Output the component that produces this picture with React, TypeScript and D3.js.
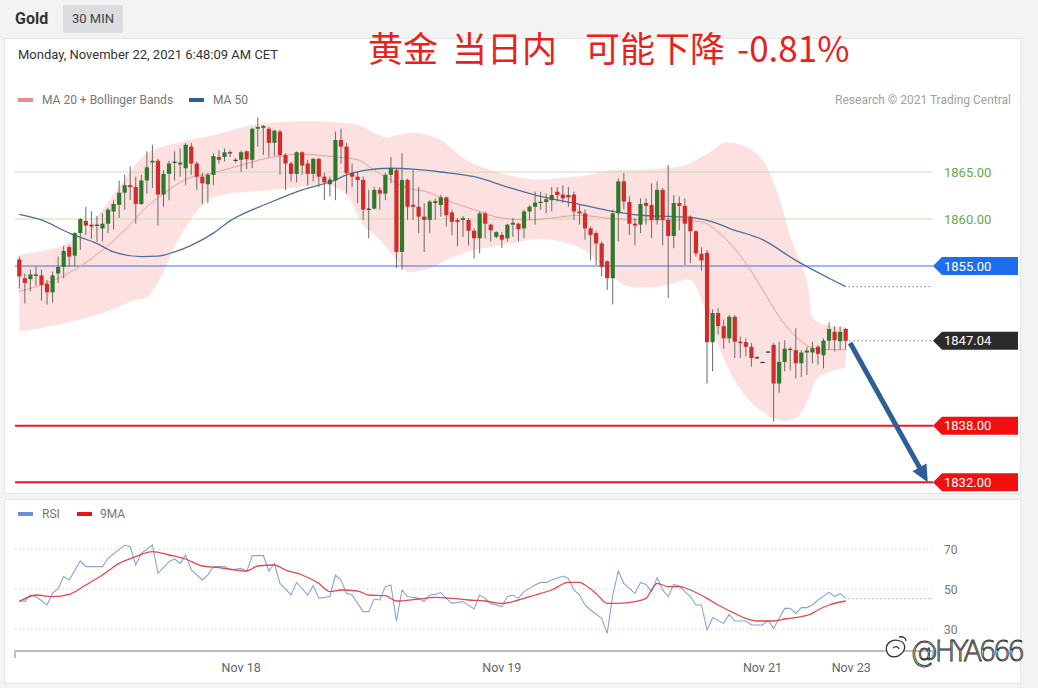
import React from 'react';
import * as d3 from 'd3';

// ---------- DATA ----------
const opens = [1855.7,1853.7,1853.6,1854.0,1854.0,1853.1,1852.2,1854.2,1854.9,1857.0,1856.1,1858.5,1859.8,1859.4,1859.3,1859.0,1859.5,1860.8,1861.5,1862.8,1863.6,1863.4,1861.6,1864.1,1866.0,1866.2,1862.6,1864.8,1866.0,1865.8,1865.4,1867.7,1865.9,1864.5,1863.7,1864.7,1866.6,1866.6,1867.0,1866.3,1866.3,1867.2,1866.3,1869.6,1869.7,1869.6,1868.1,1869.3,1866.8,1865.9,1864.8,1867.1,1865.9,1864.8,1866.4,1864.5,1863.7,1864.1,1868.4,1867.7,1864.9,1864.5,1864.15,1861.0,1861.1,1863.1,1862.7,1864.7,1865.2,1856.5,1864.15,1861.5,1861.3,1860.25,1859.9,1861.7,1861.5,1862.3,1860.7,1859.9,1859.9,1859.9,1858.75,1857.95,1860.6,1859.4,1858.1,1858.3,1857.95,1859.4,1859.5,1859.0,1860.8,1861.3,1861.7,1861.8,1862.0,1862.9,1862.6,1862.55,1862.6,1860.8,1860.6,1859.0,1858.5,1857.4,1855.5,1853.7,1860.6,1864.0,1861.8,1859.5,1859.4,1861.7,1861.5,1859.9,1863.1,1859.9,1858.2,1861.7,1861.4,1860.25,1858.7,1856.3,1856.4,1846.9,1850.0,1848.6,1847.3,1849.6,1846.95,1846.9,1846.4,1845.3,1844.8,1845.85,1846.6,1842.5,1844.8,1846.2,1846.05,1844.65,1845.8,1845.8,1846.4,1845.5,1847.05,1848.0,1847.0,1848.3];
const highs = [1856.0,1854.2,1854.6,1855.0,1854.6,1853.5,1854.4,1856.0,1857.1,1857.2,1858.6,1860.1,1861.3,1860.8,1860.3,1860.6,1861.2,1862.0,1864.1,1864.7,1865.6,1864.5,1864.7,1867.2,1867.9,1866.4,1865.2,1866.2,1867.2,1867.5,1868.1,1868.1,1866.1,1864.9,1864.9,1867.0,1867.3,1867.5,1867.3,1866.5,1867.3,1867.3,1869.7,1870.8,1870.0,1869.8,1869.5,1869.5,1867.0,1866.1,1867.2,1867.2,1866.3,1866.5,1866.5,1864.9,1864.5,1869.3,1869.6,1868.1,1865.9,1865.0,1864.5,1863.1,1863.4,1863.4,1864.9,1866.6,1865.4,1867.0,1864.3,1865.2,1863.4,1861.7,1862.0,1862.2,1862.55,1862.4,1861.0,1860.1,1860.3,1860.1,1859.0,1860.8,1860.8,1859.5,1858.7,1858.6,1859.5,1860.1,1859.6,1861.0,1861.5,1862.9,1862.9,1862.7,1863.4,1863.4,1863.6,1863.4,1862.9,1861.5,1861.0,1859.2,1858.7,1857.6,1855.6,1861.0,1864.3,1864.9,1862.4,1860.1,1862.2,1862.2,1863.8,1864.0,1863.3,1865.75,1862.55,1862.4,1862.2,1860.4,1858.8,1857.0,1856.7,1850.4,1850.5,1849.3,1849.8,1849.8,1847.5,1847.3,1846.8,1845.4,1844.8,1845.95,1846.8,1846.95,1847.1,1846.4,1848.4,1846.05,1846.4,1846.95,1846.6,1847.3,1849.0,1848.55,1848.55,1848.4];
const lows = [1852.6,1851.0,1852.3,1852.9,1851.3,1850.9,1851.1,1853.2,1853.7,1854.9,1854.9,1856.7,1858.3,1857.9,1857.6,1857.6,1858.5,1858.9,1860.1,1861.0,1862.0,1859.5,1861.5,1862.7,1863.3,1859.3,1861.3,1862.0,1864.1,1864.5,1863.6,1864.7,1863.1,1861.6,1861.7,1863.6,1865.9,1866.1,1866.6,1866.0,1865.0,1865.3,1865.4,1867.7,1866.8,1866.6,1866.7,1864.7,1863.1,1864.0,1863.9,1864.7,1863.6,1864.0,1863.4,1862.0,1862.4,1862.0,1865.9,1862.7,1863.4,1861.7,1859.9,1857.95,1861.0,1861.0,1862.0,1863.8,1854.8,1854.6,1859.9,1859.9,1858.5,1856.5,1858.5,1859.9,1860.25,1859.2,1858.3,1857.1,1858.1,1857.2,1855.8,1856.35,1857.95,1857.6,1857.95,1856.9,1857.6,1858.1,1857.6,1857.95,1859.9,1859.4,1861.0,1860.6,1860.8,1861.85,1861.7,1861.3,1859.9,1859.4,1857.8,1855.6,1855.1,1853.9,1852.45,1850.9,1857.6,1861.0,1858.3,1857.2,1858.5,1859.4,1857.95,1859.4,1857.2,1851.6,1856.9,1858.8,1855.1,1855.3,1856.0,1854.5,1842.5,1843.8,1847.7,1846.2,1846.8,1845.2,1845.2,1845.4,1844.3,1845.1,1844.7,1845.8,1838.45,1841.5,1843.8,1843.9,1843.05,1843.2,1843.4,1844.65,1844.5,1844.1,1846.1,1845.9,1846.1,1846.1];
const closes = [1853.9,1853.2,1854.1,1854.1,1853.0,1852.2,1854.0,1854.9,1856.6,1856.0,1858.5,1860.0,1859.3,1859.2,1859.4,1859.5,1861.0,1861.6,1862.8,1863.6,1863.4,1861.6,1864.1,1865.5,1866.2,1862.6,1864.8,1865.9,1866.1,1866.0,1867.9,1865.9,1864.5,1863.8,1864.7,1866.7,1866.3,1867.1,1867.1,1866.2,1867.1,1866.35,1869.6,1869.8,1869.9,1868.1,1869.4,1866.8,1865.9,1864.8,1867.1,1865.7,1864.8,1866.4,1864.5,1863.9,1864.2,1868.4,1867.7,1864.9,1864.5,1864.15,1861.0,1861.1,1863.1,1862.7,1864.7,1865.4,1856.5,1864.15,1861.3,1861.3,1860.25,1859.9,1861.85,1861.9,1862.3,1860.4,1859.7,1859.7,1860.1,1858.75,1857.95,1860.6,1859.5,1858.8,1858.6,1857.8,1859.4,1859.6,1858.9,1860.8,1861.3,1861.75,1861.85,1862.1,1862.55,1862.55,1862.2,1862.3,1860.8,1860.6,1859.0,1858.3,1857.4,1854.9,1853.7,1860.6,1864.0,1861.85,1859.5,1859.3,1861.6,1861.4,1859.9,1863.1,1859.9,1858.2,1861.7,1861.4,1859.5,1858.7,1856.35,1855.6,1846.9,1850.0,1848.6,1847.3,1849.6,1846.95,1846.8,1846.4,1845.2,1845.25,1844.75,1845.9,1842.5,1844.8,1846.2,1846.05,1844.65,1845.8,1846.0,1846.25,1845.65,1847.05,1848.3,1847.1,1848.0,1847.04];

// [candle index, price]
const ma20: [number, number][] = [[0,1852.3],[5,1853.2],[10,1854.6],[15,1856.7],[19,1858.8],[23,1861.3],[26,1862.7],[30,1864.2],[35,1864.9],[38,1865.4],[45,1866.5],[51,1866.9],[57,1866.6],[61,1866.3],[64,1865.2],[70,1863.3],[74,1862.8],[77,1862.0],[82,1861.0],[87,1860.1],[92,1859.9],[96,1860.1],[101,1860.4],[106,1860.1],[113,1859.9],[118,1859.9],[123,1859.7],[126,1858.6],[131,1855.3],[134,1852.5],[137,1849.6],[140,1847.5],[143,1846.3],[146,1846.1],[149,1846.1]];
const ma50: [number, number][] = [[0,1860.5],[4,1859.9],[9,1858.5],[14,1857.4],[17,1856.5],[22,1856.0],[25,1856.05],[28,1856.5],[31,1857.2],[35,1858.5],[38,1859.8],[45,1861.7],[51,1863.1],[57,1864.15],[59,1864.7],[62,1865.15],[67,1865.4],[71,1865.3],[76,1865.0],[82,1864.5],[88,1863.4],[94,1862.4],[100,1861.7],[107,1860.8],[112,1860.4],[118,1860.25],[122,1860.1],[125,1859.7],[128,1859.0],[134,1857.8],[140,1855.6],[146,1853.7],[149,1852.8]];
const bandUpper: [number, number][] = [[0,1856.2],[7,1857.0],[11,1858.3],[15,1861.0],[19,1864.2],[23,1867.0],[29,1868.2],[35,1868.9],[42,1870.0],[50,1870.4],[57,1870.3],[61,1870.0],[66,1868.7],[68,1868.9],[71,1869.2],[76,1868.4],[80,1866.5],[84,1865.4],[88,1864.7],[93,1864.2],[98,1864.4],[103,1864.7],[107,1865.2],[111,1865.2],[116,1865.4],[120,1865.7],[123,1866.6],[125,1867.3],[127,1868.1],[131,1867.7],[134,1866.3],[137,1862.3],[139,1858.1],[142,1853.5],[143,1849.6],[144,1849.0],[149,1848.5]];
const bandLower: [number, number][] = [[0,1848.0],[5,1848.5],[15,1850.0],[21,1851.4],[23,1851.7],[26,1854.4],[28,1857.1],[31,1860.0],[34,1862.0],[38,1862.7],[46,1863.1],[52,1863.5],[56,1863.6],[59,1862.6],[62,1859.4],[65,1857.8],[68,1855.6],[70,1854.4],[74,1854.8],[78,1855.9],[82,1856.7],[87,1857.2],[92,1857.8],[96,1857.8],[100,1857.2],[103,1856.2],[106,1854.6],[109,1853.0],[113,1852.7],[117,1853.0],[121,1853.5],[123,1851.4],[125,1848.2],[128,1843.9],[131,1841.1],[134,1839.5],[137,1838.6],[140,1838.8],[142,1840.5],[144,1843.1],[146,1843.7],[149,1844.2]];

const rsi: [number, number][] = [[0,44.5],[1,43.7],[2,47],[3,46.2],[5,42],[6,47.8],[7,50.3],[8,56.2],[9,54.5],[11,64],[12,61.2],[15,61.2],[16,65.3],[19,72],[20,71.2],[21,62],[22,67.8],[24,72],[25,57.8],[27,63.7],[28,65],[29,62.8],[30,67],[31,59.5],[33,54.5],[34,57],[35,61.2],[37,61.2],[38,59.5],[40,60.3],[41,58.7],[42,66.7],[44,66.7],[45,59],[46,62.8],[47,52.8],[49,47],[50,53.3],[52,47],[53,51.7],[54,45.3],[56,46.2],[57,57],[58,54.5],[59,47.8],[60,47],[62,38.7],[63,38.7],[64,45],[65,44.5],[66,51.2],[67,52],[68,34],[69,49.5],[70,46.2],[72,45.3],[73,43.7],[74,47],[75,47.3],[76,48.2],[77,45.3],[78,42.8],[80,43.7],[82,40],[83,47],[84,45.3],[85,42.8],[87,41.2],[88,46.2],[89,47],[90,45.3],[91,48.7],[93,52],[94,53.3],[95,53.3],[96,54.5],[98,56.5],[99,55.3],[100,49.5],[101,47],[102,42],[103,39.5],[105,35.3],[106,27.8],[107,47],[108,59],[109,52.8],[111,47.8],[112,53.3],[113,52.3],[114,48.7],[115,55.7],[116,49.5],[117,46.2],[118,52.3],[119,51.5],[120,48.7],[121,46.2],[122,42],[123,42],[124,29.5],[125,35.7],[127,32.8],[128,37.3],[129,34],[131,34],[132,32],[134,32],[135,34.5],[136,30.3],[138,40.3],[139,40.3],[140,37.8],[141,40.7],[142,40.7],[143,42],[144,44.5],[146,48.3],[147,46.2],[148,47.8],[149,45.3]];
const rsiMA: [number, number][] = [[0,43.7],[3,47],[6,46.2],[9,47.3],[12,52],[15,57],[18,62.8],[21,66.2],[24,68.7],[27,67],[30,65],[33,61.5],[36,60.7],[39,59.5],[41,59],[43,61.5],[46,62],[48,59.5],[51,57],[54,52.8],[56,48.7],[58,49.5],[61,49],[63,47],[66,46.7],[68,44],[72,45],[75,45.8],[78,45.3],[81,44.5],[84,44],[87,42.8],[90,44.5],[93,47],[96,49.5],[99,53.3],[101,53.3],[102,52],[104,47.8],[106,42.8],[108,42.8],[111,43.7],[113,45.3],[114,49.5],[115,52.8],[117,51.2],[119,51.2],[121,49.5],[124,45.3],[126,42],[129,37.8],[131,35.3],[133,34],[136,34],[138,35],[141,36.2],[143,37.8],[144,39.5],[146,42],[149,44]];

const resistanceLevels = [1865, 1860];
const pivotLevel = 1855;
const lastPrice = 1847.04;
const supportLevels = [1838, 1832];
const arrowFrom: [number, number] = [149.8, 1846.8];
const arrowTo: [number, number] = [163.8, 1832];
const xTickIdx = [40, 87, 134, 150];
const xTickLabels = ['Nov 18', 'Nov 19', 'Nov 21', 'Nov 23'];
const rsiTicks = [70, 50, 30];
const titleParts = ['黄金', '当日内', '可能下降', '-0.81%'];

const FONT = "Roboto, 'Liberation Sans', Arial, sans-serif";

export default function App() {
  const W = 1038, H = 688;
  const x = d3.scaleLinear().domain([0, 149]).range([19.3, 845.7]);
  const y = d3.scaleLinear().domain([1855, 1865]).range([266, 172]);
  const yr = d3.scaleLinear().domain([30, 70]).range([629, 549]);
  const plotL = 15, plotR = 933, labelR = 1018;
  const titleX = [368, 452, 585, 737];

  const priceLine = d3.line<[number, number]>().x(d => x(d[0])).y(d => y(d[1])).curve(d3.curveMonotoneX);
  const bandLine = d3.line<[number, number]>().x(d => x(d[0])).y(d => y(d[1])).curve(d3.curveCatmullRom.alpha(0.5));
  const bandPath = (bandLine(bandUpper) || '') + (bandLine([...bandLower].reverse()) || '').replace(/^M/, 'L') + 'Z';
  const rsiLine = d3.line<[number, number]>().x(d => x(d[0])).y(d => yr(d[1]));
  const rsiMALine = d3.line<[number, number]>().x(d => x(d[0])).y(d => yr(d[1])).curve(d3.curveMonotoneX);

  const labelBox = (v: number, fill: string, key: string) => {
    const cy = y(v);
    const p = `M${plotR},${cy} L${plotR + 9},${cy - 9} L${labelR},${cy - 9} L${labelR},${cy + 9} L${plotR + 9},${cy + 9} Z`;
    return (
      <g key={key}>
        <path d={p} fill={fill} />
        <text x={plotR + 11} y={cy + 4.5} fontSize={13} fill="#fff" fontFamily={FONT}>{v.toFixed(2)}</text>
      </g>
    );
  };

  const ax0 = x(arrowFrom[0]), ay0 = y(arrowFrom[1]);
  const ax1 = x(arrowTo[0]), ay1 = y(arrowTo[1]);
  const len = Math.hypot(ax1 - ax0, ay1 - ay0);
  const ux = (ax1 - ax0) / len, uy = (ay1 - ay0) / len;
  const headL = 17, headW = 8;
  const bx = ax1 - ux * headL, by = ay1 - uy * headL;
  const head = `M${ax1},${ay1} L${bx - uy * headW},${by + ux * headW} L${bx + uy * headW},${by - ux * headW} Z`;

  const ma50Last = ma50[ma50.length - 1];
  const rsiLast = rsi[rsi.length - 1];

  return (
    <div style={{ position: 'absolute', left: 0, top: 0 }}>
      <svg width={W} height={H} style={{ display: 'block' }}>
        <rect x={0} y={0} width={W} height={H} fill="#f3f3f4" />
        <rect x={4.5} y={38.5} width={1016} height={455} fill="#fff" stroke="#e4e4e4" />
        <rect x={4.5} y={499.5} width={1016} height={184} fill="#fff" stroke="#e4e4e4" />

        {/* header */}
        <text x={15} y={24} fontSize={16} fontWeight="bold" fill="#333" fontFamily={FONT}>Gold</text>
        <rect x={63} y={5} width={60} height={28} fill="#dcdde1" rx={2} />
        <text x={93} y={23} fontSize={13} fill="#444" textAnchor="middle" fontFamily={FONT}>30 MIN</text>
        <text x={18} y={59} fontSize={13} fill="#333" fontFamily={FONT}>Monday, November 22, 2021 6:48:09 AM CET</text>
        <text y={62} fontSize={35} fill="#e8221b" fontFamily="'Noto Sans CJK SC', sans-serif">
          {titleParts.map((t, k) => (
            <tspan key={k} x={titleX[k]}>{t}</tspan>
          ))}
        </text>

        {/* legend */}
        <rect x={18} y={98} width={15} height={4} fill="#f08a8a" />
        <text x={42} y={104} fontSize={12} fill="#777" fontFamily={FONT}>MA 20 + Bollinger Bands</text>
        <rect x={189} y={98} width={15} height={4} fill="#2f5d99" />
        <text x={213} y={104} fontSize={12} fill="#777" fontFamily={FONT}>MA 50</text>
        <text x={1011} y={104} fontSize={12} fill="#a0a0a0" textAnchor="end" fontFamily={FONT}>Research © 2021 Trading Central</text>

        {/* bollinger band */}
        <path d={bandPath} fill="#fde0e0" />

        {/* levels */}
        {resistanceLevels.map(v => (
          <g key={'r' + v}>
            <line x1={plotL} x2={plotR} y1={y(v)} y2={y(v)} stroke="#c6e0ad" strokeWidth={1} />
            <text x={plotR + 11} y={y(v) + 4.5} fontSize={13} fill="#6aa84f" fontFamily={FONT}>{v.toFixed(2)}</text>
          </g>
        ))}
        <line x1={plotL} x2={plotR} y1={y(pivotLevel)} y2={y(pivotLevel)} stroke="#3e6ee6" strokeWidth={1.2} />
        {supportLevels.map(v => (
          <line key={'s' + v} x1={plotL} x2={plotR} y1={y(v)} y2={y(v)} stroke="#e02020" strokeWidth={2} />
        ))}

        {/* MAs */}
        <path d={priceLine(ma20) || ''} fill="none" stroke="#f09a9a" strokeWidth={1} />
        <path d={priceLine(ma50) || ''} fill="none" stroke="#4f6f9f" strokeWidth={1.3} />
        <line x1={x(ma50Last[0]) + 3} x2={plotR} y1={y(ma50Last[1])} y2={y(ma50Last[1])} stroke="#444" strokeDasharray="1,3" />
        <line x1={x(149) + 4} x2={plotR} y1={y(lastPrice)} y2={y(lastPrice)} stroke="#444" strokeDasharray="1,3" />

        {/* candles */}
        {closes.map((c, i) => {
          const o = opens[i];
          const up = c >= o;
          const doji = Math.abs(c - o) < 0.12;
          const col = doji ? '#3a3a3a' : up ? '#2f7a2a' : '#d32a2a';
          const top = y(Math.max(o, c));
          const h = Math.max(1.2, Math.abs(y(o) - y(c)));
          return (
            <g key={i}>
              <line x1={x(i)} x2={x(i)} y1={y(highs[i])} y2={y(lows[i])} stroke="#6a6a6a" strokeWidth={1} />
              <rect x={x(i) - 2.1} y={top} width={4.2} height={h} fill={col} />
            </g>
          );
        })}

        {/* arrow */}
        <line x1={ax0} y1={ay0} x2={bx + ux * 2} y2={by + uy * 2} stroke="#2e5e98" strokeWidth={5} />
        <path d={head} fill="#2e5e98" />

        {/* labels */}
        {labelBox(pivotLevel, '#1b6ef0', 'p')}
        {labelBox(lastPrice, '#2b2b2b', 'l')}
        {supportLevels.map(v => labelBox(v, '#f01010', 'sb' + v))}

        {/* RSI panel */}
        <rect x={18} y={512} width={15} height={4} fill="#6d8fd8" />
        <text x={42} y={518} fontSize={12} fill="#777" fontFamily={FONT}>RSI</text>
        <rect x={77} y={512} width={15} height={4} fill="#e01818" />
        <text x={100} y={518} fontSize={12} fill="#777" fontFamily={FONT}>9MA</text>
        {rsiTicks.map(t => (
          <g key={'rt' + t}>
            <line x1={plotL} x2={plotR} y1={yr(t)} y2={yr(t)} stroke="#cfcfcf" strokeDasharray="1,3" />
            <text x={944} y={yr(t) + 4.5} fontSize={12} fill="#777" fontFamily={FONT}>{t}</text>
          </g>
        ))}
        <path d={rsiLine(rsi) || ''} fill="none" stroke="#8aa2dc" strokeWidth={1.1} />
        <path d={rsiMALine(rsiMA) || ''} fill="none" stroke="#e04a4a" strokeWidth={1.3} />
        <line x1={x(rsiLast[0]) + 3} x2={plotR} y1={yr(rsiLast[1])} y2={yr(rsiLast[1])} stroke="#777" strokeDasharray="1,3" />

        {/* x axis */}
        <line x1={plotL} x2={plotR} y1={651} y2={651} stroke="#a8a8a8" strokeWidth={1.5} />
        <line x1={plotL} x2={plotL} y1={651} y2={658} stroke="#a8a8a8" strokeWidth={1.5} />
        <line x1={plotR} x2={plotR} y1={651} y2={658} stroke="#a8a8a8" strokeWidth={1.5} />
        {xTickIdx.map((t, k) => (
          <text key={'xt' + k} x={x(t)} y={672} fontSize={12.5} fill="#666" textAnchor="middle" fontFamily={FONT}>{xTickLabels[k]}</text>
        ))}

        {/* watermark */}
        <g fill="none" stroke="#333" strokeWidth={1.3}>
          <path d="M887,652 C884,644 892,638 900,641 C906,643 906,650 901,654 C897,658 889,658 887,652 Z" fill="#fff" />
          <path d="M893,648 C895,646 898,646 899,649" />
          <path d="M899,637 C903,636 906,638 906,641" />
        </g>
        <text x={910} y={661} fontSize={28} fill="#fff" stroke="#333" strokeWidth={0.9} textLength={115} fontFamily="'DejaVu Sans', sans-serif" fontWeight={200}>@HYA666</text>
      </svg>
    </div>
  );
}
